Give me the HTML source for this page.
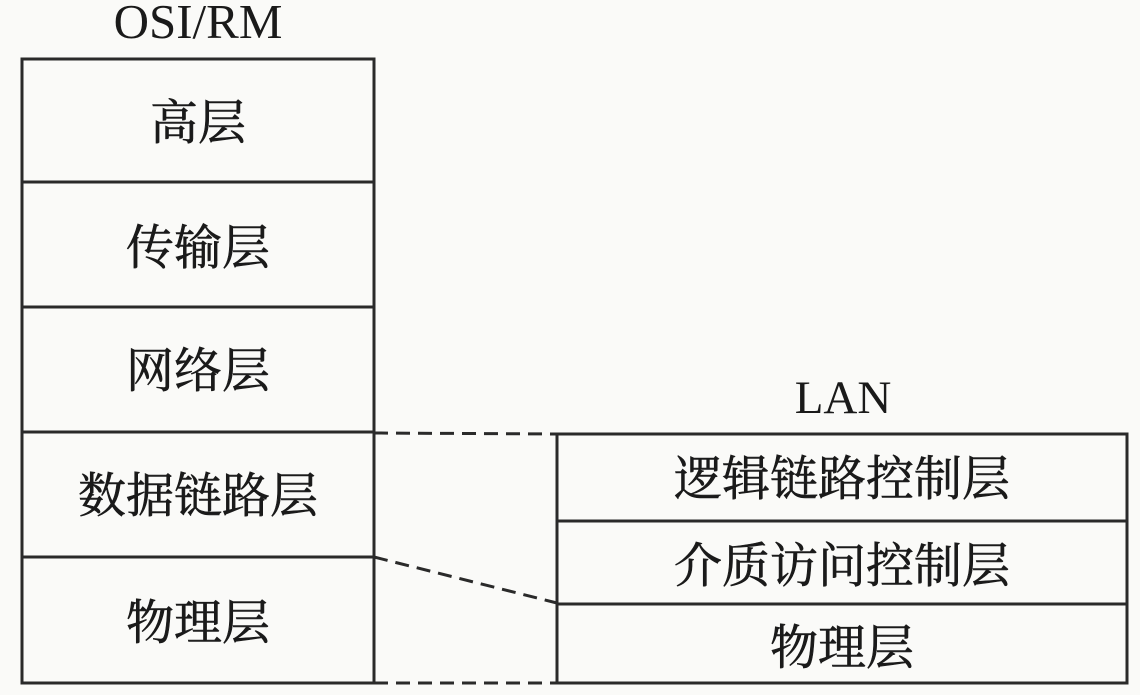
<!DOCTYPE html>
<html><head><meta charset="utf-8"><style>
html,body{margin:0;padding:0;background:#fafaf8;}
svg{display:block}
text{font-family:"Liberation Serif","Noto Serif CJK SC","Noto Sans CJK SC",serif;fill:#1a1a1a;}
</style></head><body>
<svg width="1140" height="695" viewBox="0 0 1140 695">
<g stroke="#2a2a2a" stroke-width="3" fill="none">
<rect x="22" y="59" width="352" height="624"/>
<line x1="22" y1="182" x2="374" y2="182"/>
<line x1="22" y1="307" x2="374" y2="307"/>
<line x1="22" y1="432" x2="374" y2="432"/>
<line x1="22" y1="557" x2="374" y2="557"/>
<rect x="557" y="434" width="570" height="249"/>
<line x1="557" y1="521" x2="1127" y2="521"/>
<line x1="557" y1="604" x2="1127" y2="604"/>
<g stroke-dasharray="14,8">
<line x1="374" y1="433" x2="557" y2="434"/>
<line x1="374" y1="557" x2="557" y2="603"/>
<line x1="374" y1="683" x2="557" y2="683"/>
</g>
</g>
<g text-anchor="middle">
<text x="198" y="38" font-size="49">OSI/RM</text>
<text x="843" y="413" font-size="47">LAN</text>
</g>
<g font-size="48" text-anchor="middle" style="font-family:'Noto Sans CJK SC',sans-serif" stroke="#1a1a1a" stroke-width="0.6">
<text x="198" y="139">高层</text>
<text x="198" y="264">传输层</text>
<text x="198" y="387">网络层</text>
<text x="198" y="512">数据链路层</text>
<text x="198" y="639">物理层</text>
<text x="842" y="495">逻辑链路控制层</text>
<text x="842" y="582">介质访问控制层</text>
<text x="842" y="664">物理层</text>
</g>
</svg>
</body></html>
